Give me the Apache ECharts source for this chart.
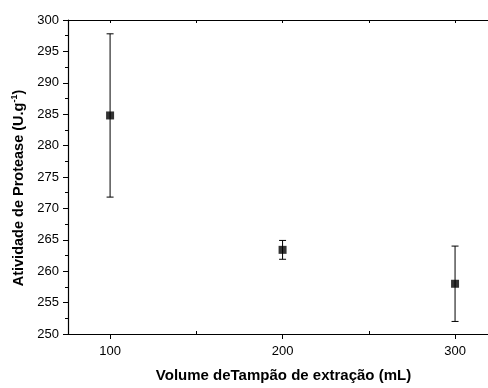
<!DOCTYPE html>
<html><head><meta charset="utf-8">
<script src="https://cdn.jsdelivr.net/npm/echarts@6/dist/echarts.min.js"></script>
<style>html,body{margin:0;padding:0;background:#fff}#c{width:488px;height:388px}</style>
</head><body><div id="c"></div>
<script>
var volumes = [100, 200, 300];
var activity = [284.8, 263.4, 258.0];
var errors = [13.0, 1.5, 6.0];
var xTickLabels = [100, 200, 300];
var xMinorTicks = [150, 250];

var FONT = '"Liberation Sans", Arial, sans-serif';
var X_MIN = 75.6, X_MAX = 319.1;
var chart = echarts.init(document.getElementById('c'), null, {renderer: 'canvas'});
var pts = volumes.map(function (v, i) { return [v, activity[i]]; });
var errData = volumes.map(function (v, i) { return [v, activity[i] - errors[i], activity[i] + errors[i]]; });

chart.setOption({
  animation: false,
  backgroundColor: '#fff',
  grid: {left: 68, top: 20, right: 0, bottom: 49, containLabel: false},
  xAxis: [{
    type: 'value', min: X_MIN, max: X_MAX, position: 'bottom',
    splitLine: {show: false},
    axisLine: {show: true, onZero: false, lineStyle: {color: '#000', width: 1.2}},
    axisTick: {show: true, inside: false, length: 5, customValues: xTickLabels, lineStyle: {color: '#000'}},
    axisLabel: {customValues: xTickLabels, margin: 11, fontSize: 13, color: '#000', fontFamily: FONT},
    name: 'Volume deTampão de extração (mL)', nameLocation: 'middle', nameGap: 34,
    nameTextStyle: {fontSize: 15, fontWeight: 'bold', color: '#000', fontFamily: FONT, padding: [0, 0, 0, 11]}
  }, {
    type: 'value', min: X_MIN, max: X_MAX, position: 'top',
    splitLine: {show: false},
    axisLine: {show: true, onZero: false, lineStyle: {color: '#000', width: 1.2}},
    axisTick: {show: true, inside: true, length: 3, customValues: [100, 150, 200, 250, 300], lineStyle: {color: '#000'}},
    axisLabel: {show: false}
  }, {
    type: 'value', min: X_MIN, max: X_MAX, position: 'bottom',
    splitLine: {show: false},
    axisLine: {show: false, onZero: false},
    axisTick: {show: true, inside: true, length: 3, customValues: xMinorTicks, lineStyle: {color: '#000'}},
    axisLabel: {show: false}
  }],
  yAxis: {
    type: 'value', min: 250, max: 300, interval: 5,
    splitLine: {show: false},
    axisLine: {show: true, onZero: false, lineStyle: {color: '#000', width: 1.2}},
    axisTick: {show: true, inside: false, length: 5, lineStyle: {color: '#000'}},
    minorTick: {show: true, splitNumber: 2, length: 3, lineStyle: {color: '#000'}},
    axisLabel: {margin: 9, fontSize: 13, color: '#000', fontFamily: FONT},
    name: 'Atividade de Protease (U.g{sup|-1})', nameLocation: 'middle', nameGap: 39,
    nameTextStyle: {fontSize: 14.5, fontWeight: 'bold', color: '#000', fontFamily: FONT, padding: [0, 22, 0, 0],
      rich: {sup: {fontSize: 9, fontWeight: 'bold', color: '#000', fontFamily: FONT, verticalAlign: 'top', padding: [0, 0, 9, 0]}}}
  },
  series: [{
    type: 'custom',
    data: errData,
    z: 2,
    renderItem: function (params, api) {
      var x = api.value(0);
      var lo = api.coord([x, api.value(1)]);
      var hi = api.coord([x, api.value(2)]);
      var cw = 3.5;
      var st = {stroke: '#000', lineWidth: 1};
      return {type: 'group', children: [
        {type: 'line', shape: {x1: lo[0], y1: lo[1], x2: hi[0], y2: hi[1]}, style: st},
        {type: 'line', shape: {x1: lo[0] - cw, y1: lo[1], x2: lo[0] + cw, y2: lo[1]}, style: st},
        {type: 'line', shape: {x1: hi[0] - cw, y1: hi[1], x2: hi[0] + cw, y2: hi[1]}, style: st}
      ]};
    }
  }, {
    type: 'scatter', data: pts, symbol: 'rect', symbolSize: 8, z: 3,
    itemStyle: {color: '#000'}
  }]
});
</script></body></html>
